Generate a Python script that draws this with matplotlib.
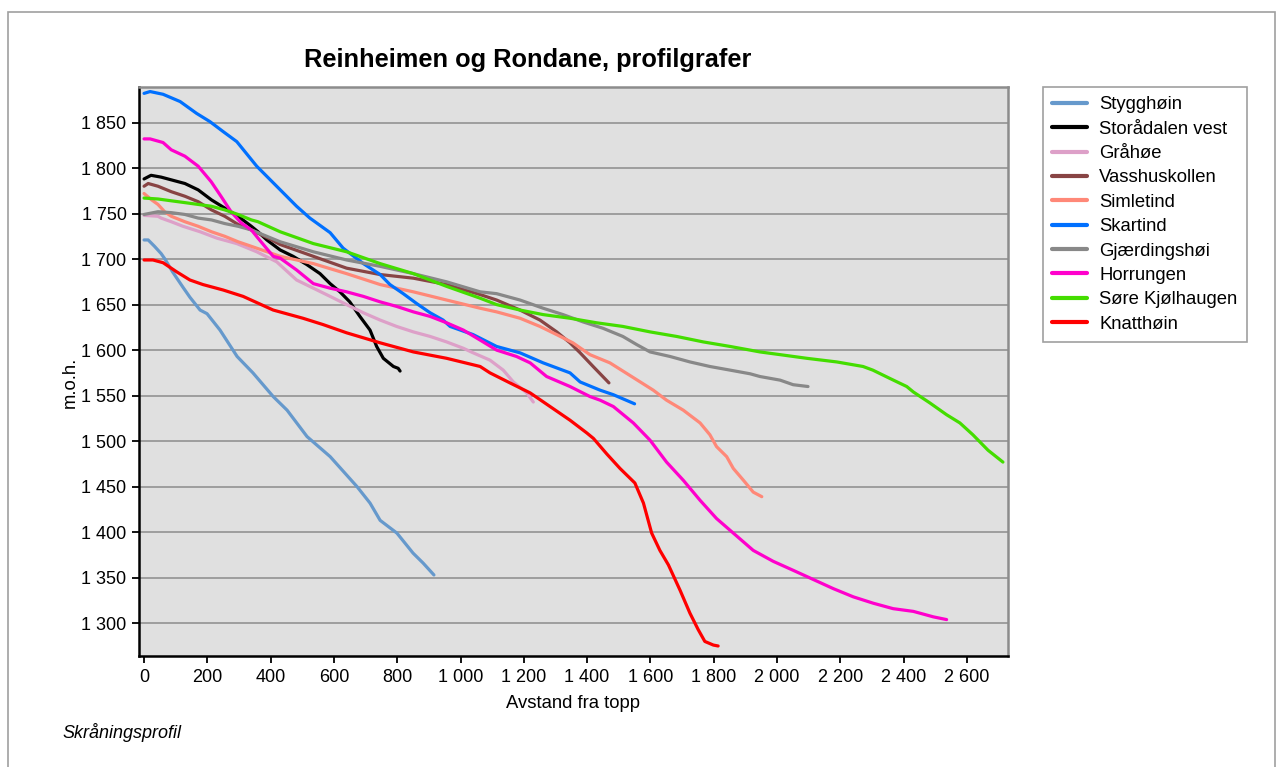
import matplotlib.pyplot as plt
from matplotlib.ticker import FuncFormatter, MultipleLocator
from matplotlib.patches import Rectangle

plt.rcParams['font.family'] = ['Liberation Sans', 'DejaVu Sans']

# Profiles: distance from top (m) and elevation (m.o.h.)
stygghoin_x = [0, 13, 33, 54, 66, 90, 123, 145, 177, 199, 240, 294, 344, 408, 452, 515, 588, 673, 714, 746, 799, 850, 882, 916]
stygghoin_y = [1721, 1721, 1714, 1706, 1700, 1686, 1669, 1658, 1644, 1640, 1622, 1593, 1575, 1549, 1534, 1505, 1483, 1450, 1432, 1413, 1399, 1377, 1366, 1353]

storadalen_x = [0, 22, 54, 86, 129, 171, 213, 255, 297, 339, 360, 388, 430, 471, 514, 556, 588, 619, 650, 682, 714, 735, 756, 788, 803, 809]
storadalen_y = [1788, 1792, 1790, 1787, 1783, 1776, 1765, 1756, 1747, 1736, 1730, 1721, 1710, 1703, 1694, 1684, 1673, 1664, 1653, 1637, 1622, 1604, 1591, 1582, 1580, 1577]

grahoe_x = [0, 44, 54, 86, 123, 177, 230, 293, 356, 419, 482, 535, 588, 640, 693, 746, 798, 851, 904, 956, 1009, 1040, 1093, 1135, 1167, 1209, 1230]
grahoe_y = [1748, 1747, 1745, 1741, 1736, 1730, 1723, 1717, 1708, 1697, 1677, 1668, 1659, 1650, 1641, 1633, 1626, 1620, 1615, 1609, 1602, 1597, 1589, 1578, 1565, 1553, 1543]

vasshus_x = [0, 13, 44, 86, 129, 171, 213, 255, 297, 339, 398, 430, 535, 640, 746, 851, 956, 1062, 1114, 1188, 1251, 1304, 1346, 1378, 1419, 1469]
vasshus_y = [1780, 1783, 1780, 1774, 1769, 1763, 1754, 1747, 1738, 1732, 1722, 1716, 1703, 1690, 1683, 1679, 1672, 1661, 1655, 1644, 1633, 1620, 1608, 1597, 1582, 1564]

simletind_x = [0, 24, 44, 65, 86, 129, 171, 213, 255, 297, 339, 430, 535, 640, 746, 851, 956, 1062, 1114, 1188, 1251, 1304, 1355, 1409, 1472, 1536, 1609, 1651, 1704, 1757, 1788, 1809, 1841, 1862, 1894, 1925, 1952]
simletind_y = [1772, 1765, 1760, 1752, 1747, 1741, 1736, 1730, 1725, 1719, 1714, 1703, 1695, 1684, 1672, 1664, 1655, 1646, 1642, 1635, 1626, 1617, 1608, 1595, 1586, 1572, 1556, 1545, 1534, 1520, 1507, 1494, 1483, 1470, 1457, 1444, 1439]

skartind_x = [0, 19, 60, 114, 166, 208, 250, 293, 356, 419, 482, 524, 588, 629, 693, 746, 777, 819, 862, 904, 945, 967, 1040, 1114, 1188, 1261, 1346, 1378, 1441, 1483, 1550]
skartind_y = [1882, 1884, 1881, 1873, 1860, 1851, 1840, 1829, 1802, 1780, 1758, 1745, 1729, 1712, 1695, 1683, 1672, 1662, 1651, 1641, 1633, 1626, 1617, 1604, 1597, 1586, 1575, 1565, 1556, 1551, 1541]

gjarding_x = [0, 44, 86, 129, 171, 213, 255, 297, 339, 430, 535, 640, 746, 851, 956, 1062, 1114, 1188, 1261, 1324, 1387, 1450, 1513, 1557, 1599, 1662, 1725, 1788, 1852, 1915, 1946, 2010, 2051, 2098]
gjarding_y = [1749, 1752, 1751, 1749, 1745, 1743, 1739, 1736, 1732, 1719, 1708, 1699, 1692, 1684, 1675, 1664, 1662, 1655, 1646, 1639, 1631, 1624, 1615, 1606, 1598, 1593, 1587, 1582, 1578, 1574, 1571, 1567, 1562, 1560]

horrungen_x = [0, 19, 60, 86, 129, 171, 212, 243, 275, 306, 339, 360, 408, 430, 482, 535, 588, 640, 693, 746, 798, 851, 904, 956, 1009, 1062, 1114, 1177, 1220, 1272, 1346, 1409, 1441, 1483, 1546, 1599, 1651, 1704, 1757, 1809, 1862, 1925, 1988, 2052, 2115, 2178, 2241, 2304, 2367, 2431, 2494, 2536]
horrungen_y = [1832, 1832, 1828, 1820, 1813, 1802, 1785, 1769, 1752, 1740, 1732, 1723, 1703, 1701, 1688, 1673, 1668, 1664, 1659, 1653, 1648, 1642, 1637, 1630, 1622, 1611, 1600, 1593, 1586, 1571, 1560, 1549, 1545, 1538, 1520, 1501, 1477, 1457, 1435, 1415, 1399, 1380, 1368, 1358, 1348, 1338, 1329, 1322, 1316, 1313, 1307, 1304]

kjolhaugen_x = [0, 44, 86, 129, 171, 213, 255, 297, 339, 360, 430, 535, 640, 746, 851, 956, 1062, 1114, 1188, 1261, 1346, 1430, 1513, 1599, 1683, 1767, 1852, 1915, 1946, 2010, 2094, 2189, 2272, 2303, 2356, 2410, 2431, 2483, 2536, 2578, 2619, 2667, 2714]
kjolhaugen_y = [1767, 1766, 1764, 1762, 1760, 1758, 1754, 1749, 1743, 1741, 1730, 1717, 1708, 1695, 1684, 1670, 1657, 1650, 1644, 1639, 1635, 1630, 1626, 1620, 1615, 1609, 1604, 1600, 1598, 1595, 1591, 1587, 1582, 1578, 1569, 1560, 1554, 1542, 1529, 1520, 1507, 1490, 1477]

knatthoin_x = [0, 28, 60, 103, 145, 186, 250, 313, 408, 502, 566, 640, 746, 851, 956, 1062, 1093, 1156, 1220, 1283, 1346, 1399, 1420, 1462, 1504, 1551, 1578, 1604, 1630, 1657, 1694, 1725, 1751, 1772, 1799, 1814]
knatthoin_y = [1699, 1699, 1696, 1686, 1677, 1672, 1666, 1659, 1644, 1635, 1628, 1619, 1608, 1598, 1591, 1582, 1575, 1564, 1553, 1538, 1523, 1509, 1503, 1486, 1470, 1454, 1432, 1399, 1380, 1364, 1336, 1311, 1293, 1280, 1276, 1275]

series = [
    ('Stygghøin', stygghoin_x, stygghoin_y, '#6699CC'),
    ('Storådalen vest', storadalen_x, storadalen_y, '#000000'),
    ('Gråhøe', grahoe_x, grahoe_y, '#DDA0C8'),
    ('Vasshuskollen', vasshus_x, vasshus_y, '#884444'),
    ('Simletind', simletind_x, simletind_y, '#FF8878'),
    ('Skartind', skartind_x, skartind_y, '#0070FF'),
    ('Gjærdingshøi', gjarding_x, gjarding_y, '#888888'),
    ('Horrungen', horrungen_x, horrungen_y, '#FF00CC'),
    ('Søre Kjølhaugen', kjolhaugen_x, kjolhaugen_y, '#44DD00'),
    ('Knatthøin', knatthoin_x, knatthoin_y, '#FF0000'),
]

fig = plt.figure(figsize=(12.77, 7.67), dpi=100)
W, H = 1277.0, 767.0

#outer frame of the chart object
fig.patches.append(Rectangle((8/W, -0.1), (1275-8)/W, 1.1 - 12/H, transform=fig.transFigure,
                             fill=False, edgecolor='#A0A0A0', lw=1.2))

ax = fig.add_axes([139/W, 1 - 656/H, (1008-139)/W, (656-87)/H])
ax.set_facecolor('#E0E0E0')

for name, xs, ys, col in series:
    ax.plot(xs, ys, '-', color=col, lw=2.3, label=name, solid_capstyle='round')

ax.set_xlim(-16, 2730)
ax.set_ylim(1264, 1889)
ax.xaxis.set_major_locator(MultipleLocator(200))
ax.yaxis.set_major_locator(MultipleLocator(50))
fmt = FuncFormatter(lambda v, p: '{:,}'.format(int(v)).replace(',', ' '))
ax.xaxis.set_major_formatter(fmt)
ax.yaxis.set_major_formatter(fmt)
ax.grid(axis='y', color='#999999', lw=1.3)
ax.set_axisbelow(True)
ax.tick_params(axis='both', labelsize=13, length=5, width=1.3, color='black', pad=4)

for s in ['left', 'bottom']:
    ax.spines[s].set_color('black')
    ax.spines[s].set_linewidth(1.8)
for s in ['top', 'right']:
    ax.spines[s].set_color('#8C8C8C')
    ax.spines[s].set_linewidth(1.8)

ax.set_xlabel('Avstand fra topp', fontsize=13.3, labelpad=7)
fig.text(70/W, 1 - 382/H, 'm.o.h.', rotation=90, fontsize=13.3, ha='center', va='center')

fig.text(528/W, 1 - 60/H, 'Reinheimen og Rondane, profilgrafer', fontsize=18.3,
         fontweight='bold', ha='center', va='center')
fig.text(62/W, 1 - 733/H, 'Skråningsprofil', fontsize=13, style='italic', ha='left', va='center')

lg = ax.legend(loc='upper left', bbox_to_anchor=(1043/W, 1 - 87/H), bbox_transform=fig.transFigure,
               fontsize=13.3, frameon=True, fancybox=False, handlelength=1.9, handletextpad=0.65,
               labelspacing=0.4, borderpad=0.5, borderaxespad=0)
lg.get_frame().set_edgecolor('#888888')
lg.get_frame().set_linewidth(1.2)
for h in lg.get_lines():
    h.set_linewidth(3)

fig.savefig('out.png', dpi=100)
